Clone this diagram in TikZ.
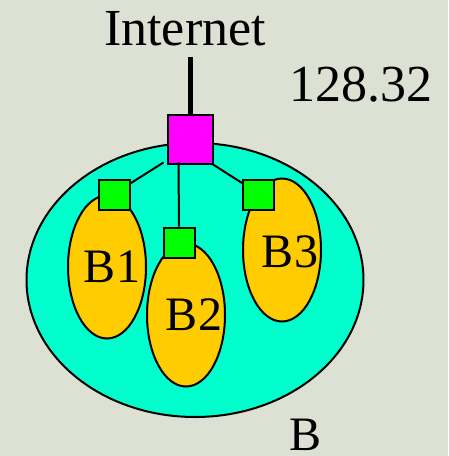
\documentclass[tikz,border=0pt]{standalone}
\usepackage{fontspec}
\setmainfont{Liberation Serif}
\newfontfamily\labelfont{Liberation Serif}
\usetikzlibrary{calc,shapes.geometric}
\definecolor{bgcol}{RGB}{220,225,212}
\definecolor{netcol}{RGB}{0,255,204}
\definecolor{subcol}{RGB}{255,204,0}
\definecolor{hostcol}{RGB}{0,255,0}
\definecolor{gwcol}{RGB}{255,0,255}
\begin{document}
\begin{tikzpicture}[x=1pt,y=-1pt,
  outline/.style={draw=black,line width=2pt},
  subnet/.style={outline,fill=subcol,ellipse,inner sep=0pt,minimum width=78,minimum height=143},
  router/.style={outline,fill=hostcol,rectangle,inner sep=0pt,minimum width=31,minimum height=30},
  lbl/.style={inner sep=0pt,anchor=base,font=\labelfont\fontsize{48}{56}\selectfont},
  biglbl/.style={inner sep=0pt,anchor=base,font=\labelfont\fontsize{52}{60}\selectfont},
  wire/.style={draw=black,line width=2pt}]
  % background
  \fill[bgcol] (0,0) rectangle (448,456);
  \useasboundingbox (0,0) rectangle (448,456);
  % network B
  \node[outline,fill=netcol,ellipse,inner sep=0pt,minimum width=337,minimum height=274] (net) at (195,280) {};
  % subnets
  \node[subnet] (s1) at (107,267) {};
  \node[subnet] (s2) at (186,315) {};
  \node[subnet] (s3) at (282,250) {};
  % routers
  \node[router] (g1) at (114.5,195) {};
  \node[router] (g2) at (179,242.5) {};
  \node[router] (g3) at (258.5,195) {};
  % gateway
  \node[outline,fill=gwcol,rectangle,inner sep=0pt,minimum width=45,minimum height=49] (gw) at (190,139) {};
  % links
  \coordinate (up) at (190,57);
  \draw[line width=5pt] (up) -- (gw.north);
  \draw[wire] ($(gw.south west)+(-3,-2)$) -- ($(g1.north east)+(0,4)$);
  \draw[wire] ($(gw.south west)+(12,-2)$) -- (g2.north);
  \draw[wire] ($(gw.south east)+(-2,-1)$) -- ($(g3.north west)+(0,4)$);
  % labels
  \node[biglbl] (inet) at (185,45) {Internet};
  \node[biglbl] (addr) at (361,101) {128.32};
  \node[lbl] (t1) at (112,282) {B1};
  \node[lbl] (t2) at (194,330) {B2};
  \node[lbl] (t3) at (290,267) {B3};
  \node[lbl] (tb) at (306,450) {B};
\end{tikzpicture}
\end{document}
